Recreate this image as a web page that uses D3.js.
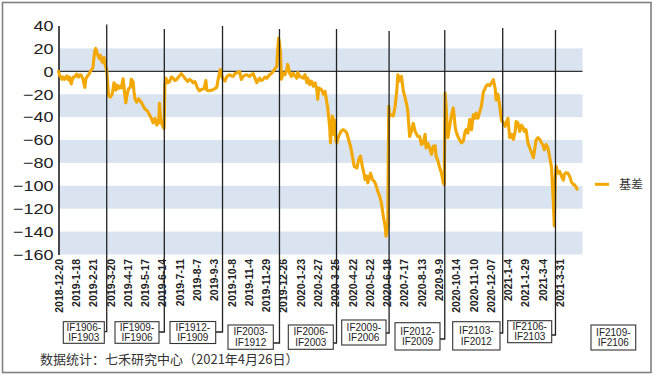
<!DOCTYPE html>
<html><head><meta charset="utf-8">
<script src="https://cdn.jsdelivr.net/npm/d3@7"></script>
<style>html,body{margin:0;padding:0;background:#fff}svg{display:block}</style>
</head><body>
<script>
// ---------------- data ----------------
const yTicks = [40, 20, 0, -20, -40, -60, -80, -100, -120, -140, -160];
const dateLabels = ["2018-12-20","2019-1-18","2019-2-21","2019-3-20","2019-4-17","2019-5-17","2019-6-14",
  "2019-7-11","2019-8-7","2019-9-3","2019-10-8","2019-11-4","2019-11-29","2019-12-26","2020-1-23",
  "2020-2-27","2020-3-25","2020-4-22","2020-5-22","2020-6-18","2020-7-17","2020-8-13","2020-9-9",
  "2020-10-14","2020-11-10","2020-12-07","2021-1-4","2021-1-29","2021-3-4","2021-3-31"];
const labelStep = 19;        // trading days between date labels
const lastDay = 576;         // last trading-day slot on the category axis
// basis: [trading-day index, value]
const basis = [[0,0],[1,-3],[2,-4.5],[4,-7],[5,-5],[7,-7],[9,-4],[11,-7.5],[12,-5],[14,-11],[16,-5],[18,-5],[20,-2.5],[22,-5],[24,-3],[25,-3.5],[27,-7],[29,-14],[30,-7],[31,-5],[33,-3],[34,-2],[35,0],[37,2],[38,4],[39,12],[40,18],[41,20],[42,17],[44,12.5],[45,11],[46,14],[48,8],[50,12],[51,6],[52,4],[53,1],[54,-10],[55,-21],[57,-22.5],[59,-20],[61,-10],[63,-16.5],[64,-12],[66,-15],[67,-13],[69,-14.5],[71,-6.5],[73,-21],[74,-27.5],[75,-22],[77,-15],[79,-14],[80,-7],[82,-9],[83,-18],[84,-24],[86,-27],[88,-24],[89,-25],[91,-27],[93,-30],[95,-33],[97,-34],[98,-35],[100,-38],[102,-41],[104,-45],[106,-41],[108,-47],[110,-45],[111,-28],[112,-40],[114,-47],[116,-50],[117,-12],[118,-6],[120,-10],[122,-9],[124,-5],[126,-6],[128,-8],[130,-7],[133,-4],[135,-2],[137,-4],[139,-6],[142,-9],[144,-7],[146,-8],[148,-10],[150,-9],[153,-15],[155,-17],[157,-16],[160,-15],[162,-8],[163,-16.5],[166,-17],[168,-16.5],[170,-16],[172,-15],[174,-14],[175,-9],[177,-1],[178,1.5],[180,-5.5],[183,-8.5],[185,-4.5],[188,-3],[190,-4],[192,-4.5],[194,-2],[196,-1.5],[199,0],[201,-7],[203,-4.5],[205,-3.5],[207,-3],[210,-4.5],[212,-3],[214,-2],[216,-6],[218,-10],[221,-6],[223,-8],[225,-7],[227,-5],[229,-6],[232,-3],[234,-2],[236,0],[238,2],[240,4.5],[241,19],[242,29],[243,24],[244,16],[245,-7],[247,-1.5],[249,-3],[251,1.5],[252,6],[254,-1.5],[256,-4.5],[258,-1.5],[260,-4],[262,-6],[263,-1],[265,-4.5],[267,-5],[269,-6],[271,-3],[273,-10],[274,-6],[276,-11.5],[278,-8.5],[280,-13],[282,-10],[284,-16],[285,-24.5],[286,-14.5],[289,-16],[291,-20],[293,-17.5],[295,-27.5],[296,-32],[297,-40],[298,-48],[299,-62.5],[300,-50],[301,-39],[302,-55],[303,-42],[305,-61],[306,-62.5],[307,-59],[309,-55],[311,-52],[313,-51],[315,-52],[317,-54],[319,-60],[321,-65.5],[323,-74],[325,-83],[327,-84],[328,-84.5],[330,-77],[332,-74],[334,-83],[336,-90],[337,-94.5],[339,-91.5],[340,-97.5],[342,-92],[343,-89],[345,-94.5],[347,-96],[348,-97.5],[350,-102],[351,-105],[353,-109],[355,-115],[357,-126.5],[359,-135],[360,-144],[361,-140],[362,-132.5],[363,-30.5],[364,-39],[366,-38],[368,-39],[370,-30.5],[372,-16],[373,-3],[374,-5],[375,-8.5],[377,-4.5],[379,-17],[381,-23],[383,-30],[384,-35],[386,-57],[388,-52],[390,-45.5],[392,-52.5],[393,-54],[395,-57],[397,-57],[399,-64],[401,-62.5],[403,-55],[404,-67],[406,-63],[408,-67],[410,-72.5],[412,-65.5],[414,-65],[415,-74],[417,-78],[419,-84],[421,-89],[423,-97.5],[424,-99],[425,-19],[426,-30],[428,-58],[430,-48],[432,-38],[434,-32],[436,-48],[437,-52.5],[439,-57],[441,-60],[443,-62.5],[445,-61],[447,-52.5],[448,-51],[450,-54],[452,-42],[454,-51],[456,-38],[458,-41],[459,-36.5],[461,-41],[463,-35.5],[465,-30],[467,-18],[469,-15],[470,-13],[472,-11.5],[474,-12.5],[476,-10],[478,-7.3],[480,-15],[481,-25],[483,-20],[485,-30],[487,-43],[489,-45],[491,-48],[492,-45],[494,-41],[496,-58],[498,-55],[500,-59.5],[502,-52.5],[503,-44],[505,-45],[507,-52.5],[509,-47],[511,-49.5],[512,-52.5],[514,-51],[516,-62.5],[518,-67],[520,-71],[522,-75.5],[524,-65.5],[525,-60],[527,-58],[529,-59.5],[531,-62.5],[533,-65.5],[534,-68.5],[536,-64],[538,-67],[540,-75.5],[542,-84],[543,-100],[544,-115],[545,-135],[546,-94.5],[547,-83],[549,-89],[551,-87.5],[553,-92],[555,-95],[556,-90],[558,-88.5],[560,-89],[562,-92],[564,-97],[566,-99],[567,-99],[569,-101],[570,-103]];
// contract roll days (trading-day index) and spread labels
const rollDays = [53, 116.3, 180.3, 242.9, 305.6, 363.4, 424.6, 488.3, 546.3];
const spreadTop = ["IF1906-","IF1909-","IF1912-","IF2003-","IF2006-","IF2009-","IF2012-","IF2103-","IF2106-","IF2109-"];
const spreadBottom = ["IF1903","IF1906","IF1909","IF1912","IF2003","IF2006","IF2009","IF2012","IF2103","IF2106"];
const seriesName = "基差";
const sourceNote = "数据统计：七禾研究中心（2021年4月26日）";

// ---------------- layout ----------------
const W = 654, H = 380;
const rollLineTop = [24.5, 29, 26, 29, 29, 31, 30, 28, 30];
const boxLayout = [ // left, top, width, height, elbow y
  [63.3,321.7,41,21.6,331.7],[115,321.7,44,21.6,332],[170,321.5,45.7,22,332],
  [228,325,45.3,24.3,343],[288.3,325,45,24.3,343],[341.7,320,44.3,25,333],
  [395,322.7,45,27.3,339],[452.7,321.7,47.3,28.3,333],[507.7,320.7,44,22,335],
  [591,325,44.7,25,null]];
const ORANGE = "#F2A800", BAND = "#DAE4F0";

const svg = d3.select("body").append("svg").attr("width", W).attr("height", H)
  .style("font-family", "'Liberation Sans', Arial, sans-serif");

const x = d3.scaleLinear().domain([0, lastDay]).range([58.5, 582.5]);
const y = d3.scaleLinear().domain([yTicks[yTicks.length - 1], yTicks[0]]).range([254.5, 25.5]);

// outer frame
svg.append("rect").attr("x", 2.5).attr("y", 2.5).attr("width", 648.5).attr("height", 370)
  .attr("fill", "#fff").attr("stroke", "#808080").attr("stroke-width", 1.6);

// alternating bands
const bands = [];
for (let i = 1; i < yTicks.length - 1; i += 2) bands.push([yTicks[i], yTicks[i + 1]]);
svg.append("g").selectAll("rect").data(bands).join("rect")
  .attr("x", x(0)).attr("width", x(lastDay) - x(0))
  .attr("y", d => y(d[0])).attr("height", d => y(d[1]) - y(d[0]))
  .attr("fill", BAND);

// y axis
const yAxis = svg.append("g").attr("transform", `translate(${x(0)},0)`)
  .call(d3.axisLeft(y).tickValues(yTicks).tickSize(0).tickSizeOuter(0).tickPadding(4.2));
yAxis.select(".domain").attr("stroke", "#000").attr("stroke-width", 1.4);
yAxis.selectAll("text").attr("font-size", 15).attr("fill", "#222")
  .attr("font-family", "'Liberation Sans', Arial, sans-serif")
  .attr("transform", "scale(1.2,1)");

// x axis (category axis crossing at 0)
svg.append("line").attr("x1", x(0)).attr("x2", x(lastDay)).attr("y1", y(0)).attr("y2", y(0))
  .attr("stroke", "#333").attr("stroke-width", 1.3);

// date labels (low position)
const xAxis = svg.append("g").attr("transform", `translate(0,${y(yTicks[yTicks.length - 1]) + 1.5})`)
  .call(d3.axisBottom(x).tickValues(dateLabels.map((d, i) => i * labelStep))
    .tickFormat((d, i) => dateLabels[i]).tickSize(0).tickSizeOuter(0));
xAxis.select(".domain").remove();
xAxis.selectAll("text")
  .attr("font-size", 10.5).attr("font-weight", "bold").attr("fill", "#222")
  .attr("font-family", "'Liberation Sans', Arial, sans-serif")
  .attr("text-anchor", "end").attr("x", -3).attr("y", 0).attr("dy", "0.35em")
  .attr("transform", "rotate(-90)");

// basis line
svg.append("path").datum(basis)
  .attr("d", d3.line().x(d => x(d[0])).y(d => y(d[1])))
  .attr("fill", "none").attr("stroke", ORANGE).attr("stroke-width", 3.1)
  .attr("stroke-linejoin", "round").attr("stroke-linecap", "round");

// roll lines with elbows to the spread boxes
const rollG = svg.append("g");
rollDays.forEach((d, i) => {
  const lx = x(d), b = boxLayout[i];
  rollG.append("path")
    .attr("d", `M${lx},${rollLineTop[i]}V${b[4]}H${b[0] + b[2]}`)
    .attr("fill", "none").attr("stroke", "#222").attr("stroke-width", 1.3);
});

// spread boxes
const boxG = svg.append("g").selectAll("g").data(spreadTop).join("g");
boxG.append("rect")
  .attr("x", (d, i) => boxLayout[i][0]).attr("y", (d, i) => boxLayout[i][1])
  .attr("width", (d, i) => boxLayout[i][2]).attr("height", (d, i) => boxLayout[i][3])
  .attr("fill", "#fff").attr("stroke", "#333").attr("stroke-width", 1.1);
boxG.append("text")
  .attr("x", (d, i) => boxLayout[i][0] + boxLayout[i][2] / 2)
  .attr("y", (d, i) => boxLayout[i][1] + boxLayout[i][3] / 2 - 5.2)
  .attr("dy", "0.35em").attr("text-anchor", "middle").attr("font-size", 10).attr("fill", "#222")
  .text(d => d);
boxG.append("text")
  .attr("x", (d, i) => boxLayout[i][0] + boxLayout[i][2] / 2)
  .attr("y", (d, i) => boxLayout[i][1] + boxLayout[i][3] / 2 + 5.2)
  .attr("dy", "0.35em").attr("text-anchor", "middle").attr("font-size", 10).attr("fill", "#222")
  .text((d, i) => spreadBottom[i]);

// legend
const lg = svg.append("g").attr("transform", "translate(595,184.3)");
lg.append("line").attr("x1", 0).attr("x2", 14).attr("stroke", ORANGE).attr("stroke-width", 3);
lg.append("text").attr("x", 24).attr("y", 4.5).attr("font-size", 12).attr("fill", "#333")
  .attr("font-family", "'Noto Sans CJK SC', sans-serif").text(seriesName);

// source note
svg.append("text").attr("x", 40).attr("y", 364).attr("font-size", 13).attr("fill", "#333")
  .attr("font-family", "'Noto Sans CJK SC', sans-serif").text(sourceNote);
</script>
</body></html>
